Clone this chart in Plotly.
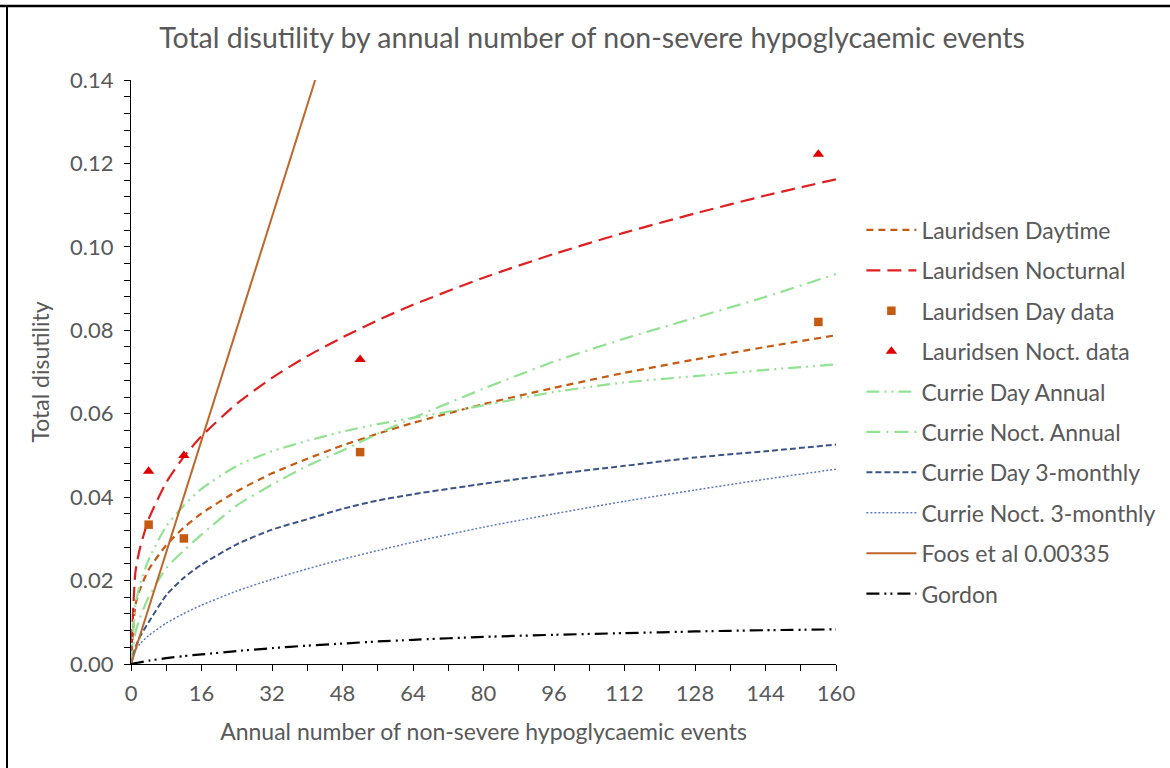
import plotly.graph_objects as go

# ---------------- data ----------------
x_curve = [0, 1, 2, 4, 8, 12, 16, 24, 32, 40, 48, 56, 64, 80, 96, 112, 128, 144, 160]

laur_day = [0, 0.0141, 0.0178, 0.0226, 0.0285, 0.0327, 0.0361, 0.0414, 0.0457, 0.0492,
            0.0524, 0.0552, 0.0578, 0.0623, 0.0662, 0.0698, 0.0730, 0.0760, 0.0788]
laur_noct = [0, 0.0220, 0.0276, 0.0347, 0.0435, 0.0497, 0.0546, 0.0624, 0.0686, 0.0738,
             0.0783, 0.0824, 0.0861, 0.0926, 0.0983, 0.1034, 0.1080, 0.1123, 0.1162]
currie_day_annual = [0, 0.0140, 0.0190, 0.0250, 0.0330, 0.0380, 0.0420, 0.0475, 0.0510, 0.0535,
                     0.0557, 0.0575, 0.0590, 0.0620, 0.0652, 0.0675, 0.0690, 0.0705, 0.0718]
currie_noct_annual = [0, 0.0075, 0.0110, 0.0160, 0.0230, 0.0272, 0.0310, 0.0380, 0.0430, 0.0475,
                      0.0512, 0.0552, 0.0590, 0.0660, 0.0725, 0.0780, 0.0830, 0.0880, 0.0935]
currie_day_3m = [0, 0.0040, 0.0065, 0.0100, 0.0165, 0.0207, 0.0238, 0.0287, 0.0322, 0.0347,
                 0.0372, 0.0392, 0.0407, 0.0432, 0.0455, 0.0475, 0.0495, 0.0510, 0.0526]
currie_noct_3m = [0, 0.0033, 0.0048, 0.0068, 0.0098, 0.0121, 0.0141, 0.0175, 0.0203, 0.0228,
                  0.0251, 0.0272, 0.0292, 0.0328, 0.0360, 0.0390, 0.0417, 0.0443, 0.0467]
gordon = [0, 0.0002, 0.0004, 0.0008, 0.0014, 0.0019, 0.0023, 0.0031, 0.0038, 0.0044,
          0.0049, 0.0054, 0.0058, 0.0065, 0.0070, 0.0074, 0.0078, 0.0081, 0.0083]

foos_x = [0, 41.8]
foos_y = [0, 0.140]

data_x = [4, 12, 52, 156]
laur_day_data = [0.0334, 0.0301, 0.0508, 0.0820]
laur_noct_data = [0.0462, 0.0500, 0.0730, 0.1222]

x_ticks = [0, 16, 32, 48, 64, 80, 96, 112, 128, 144, 160]
y_ticks = [0.00, 0.02, 0.04, 0.06, 0.08, 0.10, 0.12, 0.14]

FONT = "Lato"
GREY = "#595959"

fig = go.Figure()

def line(name, y, color, dash, width=2.0, x=None):
    fig.add_trace(go.Scatter(
        x=x if x is not None else x_curve, y=y, name=name, mode="lines",
        line=dict(color=color, dash=dash, width=width, shape="spline", smoothing=0.6),
        legendgroup=name))

line("Lauridsen Daytime", laur_day, "#C55A11", "7px,5px", 2.2)
line("Lauridsen Nocturnal", laur_noct, "#E02020", "14px,7px", 2.2)
fig.add_trace(go.Scatter(x=data_x, y=laur_day_data, name="Lauridsen Day data", mode="markers",
                         marker=dict(symbol="square", size=8.5, color="#C55A11"),
                         legendgroup="ldd"))
fig.add_trace(go.Scatter(x=data_x, y=laur_noct_data, name="Lauridsen Noct. data", mode="markers",
                         marker=dict(symbol="triangle-up", size=10, color="#E00000"),
                         legendgroup="lnd"))
line("Currie Day Annual", currie_day_annual, "#93E293", "13px,5px,2px,5px,2px,5px", 2.2)
line("Currie Noct. Annual", currie_noct_annual, "#93E293", "14px,6px,2px,6px", 2.2)
line("Currie Day 3-monthly", currie_day_3m, "#3B5488", "6px,3px", 2.0)
line("Currie Noct. 3-monthly", currie_noct_3m, "#5A7AC0", "2px,2px", 1.5)
fig.add_trace(go.Scatter(x=foos_x, y=foos_y, name="Foos et al 0.00335", mode="lines",
                         line=dict(color="#C0662A", width=2), legendgroup="foos"))
line("Gordon", gordon, "#000000", "13px,5px,2px,4px,2px,5px", 2.2)

axis_common = dict(
    showline=True, linecolor="#000000", linewidth=1,
    showgrid=False, zeroline=False, ticks="outside", ticklen=6, tickcolor="#000000",
    tickfont=dict(family=FONT, size=22, color=GREY),
)

fig.update_xaxes(range=[0, 160], tickvals=x_ticks, ticktext=[str(v) for v in x_ticks],
                 minor=dict(dtick=8, tick0=0, ticks="outside", ticklen=6, tickcolor="#000000"),
                 ticklabelstandoff=4,
                 title=dict(text="Annual number of non-severe hypoglycaemic events",
                            font=dict(family=FONT, size=23, color=GREY), standoff=18),
                 **axis_common)
fig.update_yaxes(range=[0, 0.14], tickvals=y_ticks, ticktext=[f"{v:.2f}" for v in y_ticks],
                 minor=dict(dtick=0.004, tick0=0, ticks="outside", ticklen=6, tickcolor="#000000"),
                 ticklabelstandoff=6,
                 title=dict(text="Total disutility",
                            font=dict(family=FONT, size=23, color=GREY), standoff=14),
                 **axis_common)

fig.update_layout(
    width=1170, height=768,
    margin=dict(l=131, r=334, t=80, b=104, autoexpand=False),
    paper_bgcolor="white", plot_bgcolor="white",
    title=dict(text="Total disutility by annual number of non-severe hypoglycaemic events",
               font=dict(family=FONT, size=28.5, color=GREY),
               x=0.506, xanchor="center", y=0.95, yanchor="middle"),
    showlegend=True,
    legend=dict(x=1.036, xanchor="left", y=0.780, yanchor="top",
                font=dict(family=FONT, size=23, color=GREY),
                tracegroupgap=7.5, itemwidth=50, bgcolor="rgba(0,0,0,0)"),
)

# frame lines at top and left edge of the picture
fig.add_shape(type="line", xref="paper", yref="paper", xsizemode="pixel", ysizemode="pixel",
              xanchor=0, yanchor=1, x0=-131, x1=1039, y0=74, y1=74,
              line=dict(color="#000000", width=2.5))
fig.add_shape(type="line", xref="paper", yref="paper", xsizemode="pixel", ysizemode="pixel",
              xanchor=0, yanchor=0, x0=-124, x1=-124, y0=-104, y1=659,
              line=dict(color="#000000", width=2))

fig.write_html("out.html", config={"displayModeBar": False},
               post_script="document.body.style.margin='0';")
